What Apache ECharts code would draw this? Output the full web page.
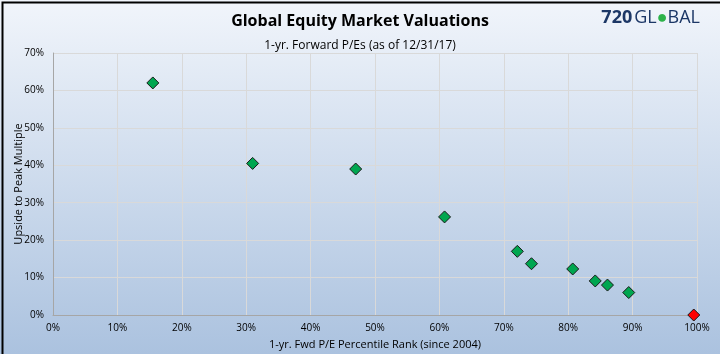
<!DOCTYPE html>
<html>
<head>
<meta charset="utf-8">
<style>
html,body{margin:0;padding:0;background:#fff;}
#chart{width:720px;height:354px;}
</style>
<script src="https://cdn.jsdelivr.net/npm/echarts@6/dist/echarts.min.js"></script>
</head>
<body>
<div id="chart"></div>
<script>
// Data
const percentileRank = [15.5, 31.0, 47.0, 60.8, 72.1, 74.3, 80.7, 84.2, 86.1, 89.4];
const upsideToPeak   = [62.0, 40.5, 39.0, 26.2, 17.0, 13.7, 12.3, 9.1, 8.0, 6.0];
const highlightRank = [99.5];
const highlightUpside = [0.0];
const titleText = 'Global Equity Market Valuations';
const subtitleText = '1-yr. Forward P/Es (as of 12/31/17)';
const xAxisTitle = '1-yr. Fwd P/E Percentile Rank (since 2004)';
const yAxisTitle = 'Upside to Peak Multiple';

const greenPts = percentileRank.map((x, i) => [x, upsideToPeak[i]]);
const redPts = highlightRank.map((x, i) => [x, highlightUpside[i]]);

const font = '"Open Sans", "Noto Sans", sans-serif';
const chart = echarts.init(document.getElementById('chart'));
chart.setOption({
  animation: false,
  backgroundColor: {
    type: 'linear', x: 0, y: 0, x2: 0, y2: 1,
    colorStops: [{offset: 0, color: '#f1f5fb'}, {offset: 1, color: '#abc2df'}]
  },
  title: [
    {text: titleText, left: 'center', top: 8,
     textStyle: {fontFamily: font, fontSize: 16, fontWeight: 'bold', color: '#000'}},
    {text: subtitleText, left: 'center', top: 35,
     textStyle: {fontFamily: font, fontSize: 12, fontWeight: 'normal', color: '#000'}}
  ],
  graphic: [
    {type: 'rect', left: 0, top: 0, shape: {width: 720, height: 354},
     style: {fill: 'none', stroke: '#000', lineWidth: 2}, silent: true, z: 100},
    {type: 'text', right: 20, top: 9,
     style: {
       text: '{a|720}{b|GL}{c|●}{b|BAL}',
       rich: {
         a: {fontFamily: font, fontSize: 18, fontWeight: 'bold', fill: '#1c3766', padding: [0, 2, 0, 0]},
         b: {fontFamily: font, fontSize: 18, fill: '#1c3766'},
         c: {fontFamily: font, fontSize: 18, fill: '#2db34a'}
       }
     }}
  ],
  grid: {left: 53, right: 23, top: 53, bottom: 39, containLabel: false, outerBoundsMode: 'none'},
  xAxis: {
    type: 'value', min: 0, max: 100, interval: 10,
    name: xAxisTitle, nameLocation: 'middle', nameGap: 24, nameMoveOverlap: false,
    nameTextStyle: {fontFamily: font, fontSize: 11, color: '#000'},
    axisLine: {show: true, lineStyle: {color: '#a6a6a6'}},
    axisTick: {show: false},
    axisLabel: {formatter: v => v + '%', fontFamily: font, fontSize: 10, color: '#000', margin: 8},
    splitLine: {show: true, lineStyle: {color: '#d9d9d9'}}
  },
  yAxis: {
    type: 'value', min: 0, max: 70, interval: 10,
    name: yAxisTitle, nameLocation: 'middle', nameGap: 29, nameMoveOverlap: false,
    nameTextStyle: {fontFamily: font, fontSize: 11, color: '#000'},
    axisLine: {show: true, lineStyle: {color: '#a6a6a6'}},
    axisTick: {show: false},
    axisLabel: {formatter: v => v + '%', fontFamily: font, fontSize: 10, color: '#000', margin: 9},
    splitLine: {show: true, lineStyle: {color: '#d9d9d9'}}
  },
  series: [
    {type: 'scatter', data: greenPts, symbol: 'diamond', symbolSize: 12,
     itemStyle: {color: '#00a650', borderColor: '#1a1a1a', borderWidth: 1, opacity: 1}},
    {type: 'scatter', data: redPts, symbol: 'diamond', symbolSize: 12,
     itemStyle: {color: '#ff0000', borderColor: '#1a1a1a', borderWidth: 1, opacity: 1}}
  ]
});
</script>
</body>
</html>
